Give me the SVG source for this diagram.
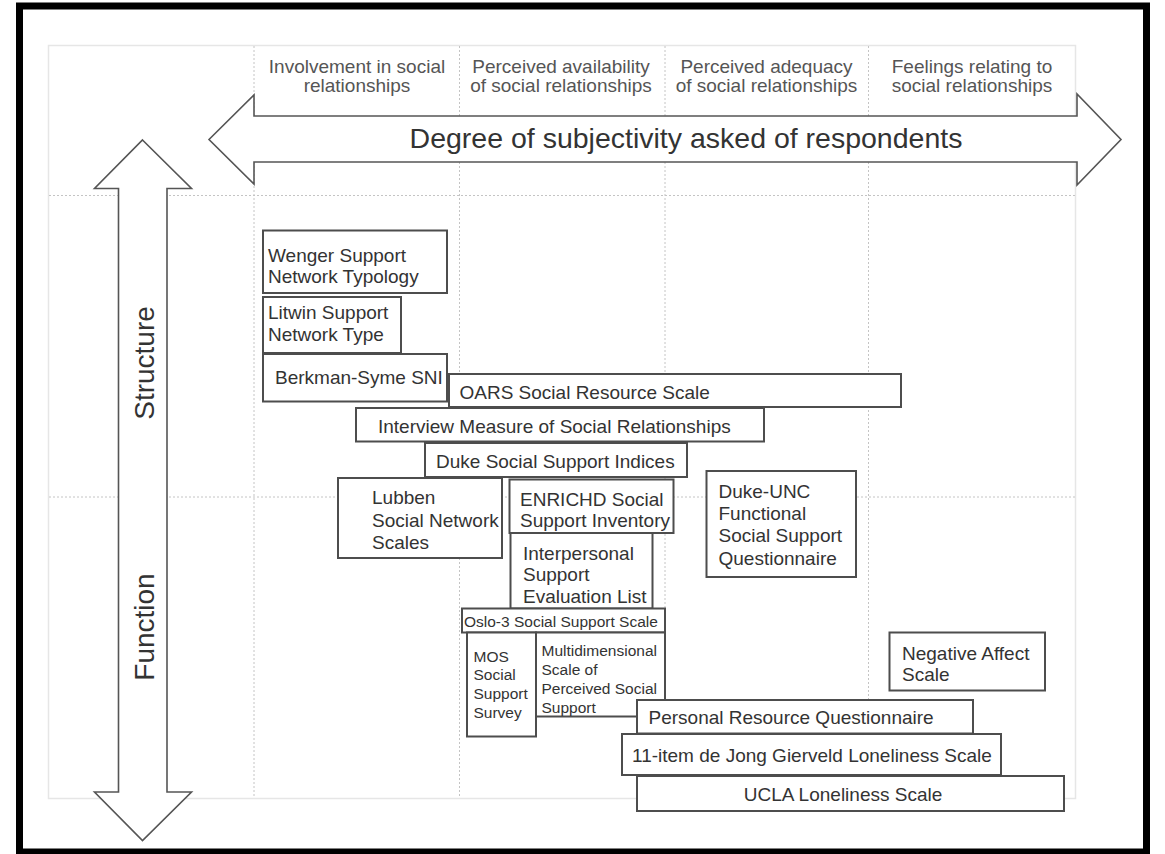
<svg xmlns="http://www.w3.org/2000/svg" width="1165" height="854" viewBox="0 0 1165 854">
<style>
.t{font-family:"Liberation Sans",Arial,sans-serif;font-size:19px;fill:#333}
.s{font-size:15.5px}
.h{fill:#555;text-anchor:middle}
.box rect{fill:#fff;stroke:#4d4d4d;stroke-width:2}
.g{stroke:#c4c4c4;stroke-width:1;stroke-dasharray:2 2;fill:none}
.arrow{fill:#fff;stroke:#555;stroke-width:1.6;stroke-linejoin:miter}
</style>
<rect x="0" y="0" width="1165" height="854" fill="#fff"/>
<g id="grid">
<rect x="48.5" y="45.5" width="1027" height="753" fill="none" stroke="#e6e6e6" stroke-width="1.5"/>
<path class="g" d="M254 46V798M459.5 46V798M665 46V798M868.5 46V798M49 195.5H1075M49 497H1075"/>
</g>
<g id="headers">
<text class="t h" x="357" y="73">Involvement in social</text>
<text class="t h" x="357" y="92">relationships</text>
<text class="t h" x="561" y="73">Perceived availability</text>
<text class="t h" x="561" y="92">of social relationships</text>
<text class="t h" x="766.5" y="73">Perceived adequacy</text>
<text class="t h" x="766.5" y="92">of social relationships</text>
<text class="t h" x="972" y="73">Feelings relating to</text>
<text class="t h" x="972" y="92">social relationships</text>
</g>
<g id="axes">
<polygon class="arrow" points="209,139.5 254,95 254,116 1077,116 1077,94 1121,139.5 1077,185 1077,162 254,162 254,184"/>
<text class="t" x="686" y="148" style="font-size:28.5px;text-anchor:middle">Degree of subjectivity asked of respondents</text>
<polygon class="arrow" points="142.5,140 191.5,188.5 167,188.5 167,792 191.5,792 142.5,840.5 94.5,792 118.5,792 118.5,188.5 94.5,188.5"/>
<text class="t" transform="translate(154,363) rotate(-90)" style="font-size:28px;text-anchor:middle">Structure</text>
<text class="t" transform="translate(154,627) rotate(-90)" style="font-size:28px;text-anchor:middle">Function</text>
</g>
<g id="connectors"></g>
<g id="wenger" class="box"><rect x="263" y="230.5" width="184" height="62.5"/><text class="t" x="268" y="262">Wenger Support</text><text class="t" x="268" y="283">Network Typology</text></g>
<g id="litwin" class="box"><rect x="263" y="297" width="138" height="56"/><text class="t" x="268" y="319">Litwin Support</text><text class="t" x="268" y="341">Network Type</text></g>
<g id="berkman" class="box"><rect x="263" y="354" width="184" height="47.5"/><text class="t" x="275" y="384">Berkman-Syme SNI</text></g>
<g id="oars" class="box"><rect x="449" y="374" width="452" height="33"/><text class="t" x="459.5" y="399">OARS Social Resource Scale</text></g>
<g id="interview" class="box"><rect x="356" y="408" width="408" height="33.5"/><text class="t" x="378" y="433">Interview Measure of Social Relationships</text></g>
<g id="dukessi" class="box"><rect x="425" y="443" width="262" height="34"/><text class="t" x="436" y="468">Duke Social Support Indices</text></g>
<g id="lubben" class="box"><rect x="338" y="478" width="164" height="80"/><text class="t" x="372" y="504">Lubben</text><text class="t" x="372" y="526.5">Social Network</text><text class="t" x="372" y="548.5">Scales</text></g>
<g id="enrichd" class="box"><rect x="509.5" y="479.5" width="164" height="53.5"/><text class="t" x="520" y="505.5">ENRICHD Social</text><text class="t" x="520" y="527">Support Inventory</text></g>
<g id="isel" class="box"><rect x="510.5" y="533" width="142" height="75.5"/><text class="t" x="523" y="560">Interpersonal</text><text class="t" x="523" y="581">Support</text><text class="t" x="523" y="603">Evaluation List</text></g>
<g id="dukeunc" class="box"><rect x="706.5" y="471" width="149.5" height="106"/><text class="t" x="718.5" y="497.5">Duke-UNC</text><text class="t" x="718.5" y="519.5">Functional</text><text class="t" x="718.5" y="542">Social Support</text><text class="t" x="718.5" y="565">Questionnaire</text></g>
<g id="oslo" class="box"><rect x="462" y="608.5" width="203" height="24"/><text class="t s" x="464" y="626.5">Oslo-3 Social Support Scale</text></g>
<g id="mos" class="box"><rect x="467" y="632.5" width="69" height="104"/><text class="t s" x="473.5" y="661.5">MOS</text><text class="t s" x="473.5" y="680">Social</text><text class="t s" x="473.5" y="698.5">Support</text><text class="t s" x="473.5" y="717.5">Survey</text></g>
<g id="mspss" class="box"><rect x="536" y="632.5" width="129" height="84"/><text class="t s" x="541.5" y="656">Multidimensional</text><text class="t s" x="541.5" y="674.5">Scale of</text><text class="t s" x="541.5" y="693.5">Perceived Social</text><text class="t s" x="541.5" y="712.5">Support</text></g>
<g id="negaffect" class="box"><rect x="889.5" y="632.5" width="155.5" height="58"/><text class="t" x="902" y="659.5">Negative Affect</text><text class="t" x="902" y="681">Scale</text></g>
<g id="prq" class="box"><rect x="637" y="700" width="336" height="33.5"/><text class="t" x="648.5" y="724">Personal Resource Questionnaire</text></g>
<g id="dejong" class="box"><rect x="622" y="734" width="379" height="41"/><text class="t" x="632" y="761.5">11-item de Jong Gierveld Loneliness Scale</text></g>
<g id="ucla" class="box"><rect x="637" y="776" width="427" height="35"/><text class="t" x="843" y="800.5" style="text-anchor:middle">UCLA Loneliness Scale</text></g>
<rect x="19.5" y="6" width="1127" height="846" fill="none" stroke="#000" stroke-width="7"/>
</svg>
